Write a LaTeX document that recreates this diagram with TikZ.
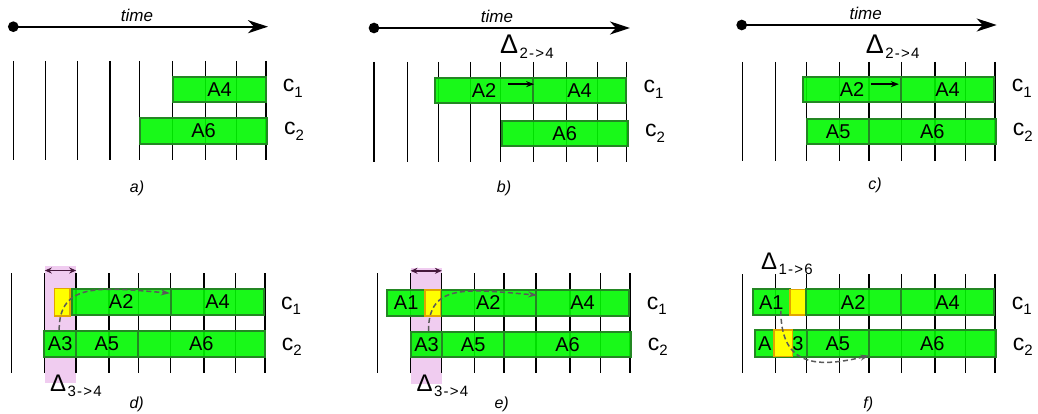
\documentclass[tikz,border=0pt]{standalone}
\usepackage{fontspec}
\setmainfont{Liberation Sans}
\usetikzlibrary{arrows.meta,calc}

\definecolor{actgreen}{RGB}{0,248,0}
\definecolor{actedge}{RGB}{35,135,35}
\definecolor{gapyellow}{RGB}{255,255,0}
\definecolor{gapedge}{RGB}{225,165,0}
\definecolor{shiftpink}{RGB}{240,204,240}
\definecolor{spanpurple}{RGB}{70,25,60}
\definecolor{flowgray}{RGB}{90,90,90}

\newcommand\fs[1]{\fontsize{#1}{#1}\selectfont}
% \blk[style]{name}{x1}{y1}{x2}{y2}{text}: a block between two corners
\newcommand\blk[7][act]{%
  \node[#1, minimum width={(#5-#3)*1pt}, minimum height={(#6-#4)*1pt}]
    (#2) at ({(#3+#5)/2},{(#4+#6)/2}) {#7};}
% \dlabel[style]{name}{x}{y}{subscript}: a Delta with its subscript
\newcommand\dlabel[5][bigdelta]{%
  \node[#1] (#2) at (#3,#4) {Δ};
  \node[deltasub] (#2-sub) at ($(#2.base east)+(1,5)$) {#5};}

\begin{document}
\begin{tikzpicture}[x=1pt,y=-1pt,
  tickline/.style={line width=1.4pt},
  act/.style={draw=actedge, fill=actgreen, fill opacity=0.9, text opacity=1,
    line width=1.7pt, inner sep=0pt, font=\fs{20}},
  gapbox/.style={draw=gapedge, fill=gapyellow, line width=1.2pt, inner sep=0pt},
  windowbox/.style={fill=shiftpink, inner sep=0pt},
  dotnode/.style={circle, fill=black, inner sep=0pt, minimum size=10.7pt},
  timeline/.style={line width=2.2pt, -{Stealth[length=20pt,width=13pt,inset=6pt]}},
  timelbl/.style={font=\fs{17}\itshape},
  panellbl/.style={font=\fs{16}\itshape},
  chan/.style={anchor=base west, inner sep=0pt, font=\fs{23}},
  bigdelta/.style={anchor=base west, inner sep=0pt, font=\fs{27}},
  smalldelta/.style={anchor=base west, inner sep=0pt, font=\fs{24}},
  deltasub/.style={anchor=base west, inner sep=0pt,
    font=\fs{15}\addfontfeatures{LetterSpace=8}},
  pusharrow/.style={line width=1.5pt, -{Stealth[length=8pt,width=6pt]}},
  spanarrow/.style={draw=spanpurple, line width=1.5pt,
    {Stealth[length=7pt,width=6pt]}-{Stealth[length=7pt,width=6pt]}},
  flowarrow/.style={draw=flowgray, line width=1.5pt, dash pattern=on 5pt off 3pt,
    -{Stealth[length=9pt,width=6pt]}},
]
\useasboundingbox (0,0) rectangle (1038,414);

% ---------------- a) ----------------
\node[dotnode] (a-t0) at (13.3,26.7) {};
\coordinate (a-t1) at (268,26.7);
\draw[timeline] (a-t0.center) -- (a-t1);
\node[timelbl] (a-time) at (137,15) {time};
\foreach \x in {13.3,45.7,77.7,110,139.3,172.7,205.7,236.7,266}
  \draw[tickline] (\x,61) -- (\x,160);
\blk{a-A4}{173}{77}{266}{102}{A4}
\blk{a-A6}{140}{118}{267}{144}{A6}
\node[chan] (a-c1) at (282.7,91.7) {c\raisebox{-5.5pt}{\fs{15}1}};
\node[chan] (a-c2) at (284,135) {c\raisebox{-5.5pt}{\fs{15}2}};
\node[panellbl] (a-lbl) at (137,188) {a)};

% ---------------- b) ----------------
\node[dotnode] (b-t0) at (374,28) {};
\coordinate (b-t1) at (630,28);
\draw[timeline] (b-t0.center) -- (b-t1);
\node[timelbl] (b-time) at (497,16) {time};
\dlabel{b-delta}{500}{54}{2->4}
\foreach \x in {374,407.3,438.3,470.7,500.7,533.3,566.7,597.3,626.7}
  \draw[tickline] (\x,62) -- (\x,162);
\blk{b-A2}{435}{78}{533}{103}{A2}
\blk{b-A4}{533}{78}{626}{103}{A4}
\blk{b-A6}{501.7}{121}{627.7}{146}{A6}
\draw[pusharrow] ($(b-A2.north east)+(-26.3,7)$) -- ($(b-A4.north west)+(2,7)$);
\node[chan] (b-c1) at (643.3,93) {c\raisebox{-5.5pt}{\fs{15}1}};
\node[chan] (b-c2) at (645,137) {c\raisebox{-5.5pt}{\fs{15}2}};
\node[panellbl] (b-lbl) at (504,188) {b)};

% ---------------- c) ----------------
\node[dotnode] (c-t0) at (741.7,25) {};
\coordinate (c-t1) at (996.7,25);
\draw[timeline] (c-t0.center) -- (c-t1);
\node[timelbl] (c-time) at (865.7,13) {time};
\dlabel{c-delta}{865.7}{53.5}{2->4}
\foreach \x in {742.3,775.7,806.7,839.3,869,901.7,935,965.7,995}
  \draw[tickline] (\x,62) -- (\x,161);
\blk{c-A2}{803.3}{77}{900.7}{102}{A2}
\blk{c-A4}{900.7}{77}{994.3}{102}{A4}
\blk{c-A5}{807.3}{119}{869}{144}{A5}
\blk{c-A6}{869}{119}{995.7}{144}{A6}
\draw[pusharrow] ($(c-A2.north east)+(-30.7,8)$) -- ($(c-A4.north west)+(-1,8)$);
\node[chan] (c-c1) at (1011.7,92) {c\raisebox{-5.5pt}{\fs{15}1}};
\node[chan] (c-c2) at (1012.7,136) {c\raisebox{-5.5pt}{\fs{15}2}};
\node[panellbl] (c-lbl) at (875,185) {c)};

% ---------------- d) ----------------
\blk[windowbox]{d-win}{45}{266}{76}{383.3}{}
\foreach \x in {11.7,44.3,76,109,138.3,170.7,204,235.7,265}
  \draw[tickline] (\x,273.3) -- (\x,373.3);
\draw[spanarrow] ($(d-win.north west)+(0,4.7)$) -- ($(d-win.north east)+(0,4.7)$);
\blk{d-A2}{71.7}{289}{170.7}{315}{A2}
\blk{d-A4}{170.7}{289}{264.3}{315}{A4}
\blk{d-A3}{44.3}{331}{76}{356.7}{A3}
\blk{d-A5}{76}{331}{137.7}{356.7}{A5}
\blk{d-A6}{137.7}{331}{265}{356.7}{A6}
\blk[gapbox]{d-Y}{54.3}{288.3}{70}{316}{}
\coordinate (d-s) at ($(d-A3.north)+(-1,0)$);
\coordinate (d-e) at ($(d-A4.north west)+(0,5)$);
\draw[flowarrow] (d-s) .. controls ($(d-s)+(0,-48)$) and ($(d-e)+(-70,-6)$) .. (d-e);
\dlabel[smalldelta]{d-delta}{50}{391.7}{3->4}
\node[chan] (d-c1) at (281,309) {c\raisebox{-5.5pt}{\fs{15}1}};
\node[chan] (d-c2) at (281.7,350) {c\raisebox{-5.5pt}{\fs{15}2}};
\node[panellbl] (d-lbl) at (136.7,404) {d)};

% ---------------- e) ----------------
\blk[windowbox]{e-win}{410.7}{267.7}{441.7}{384}{}
\foreach \x in {377.7,410.7,441.7,474.3,504,536,570,600.7,630}
  \draw[tickline] (\x,273) -- (\x,373);
\draw[spanarrow] ($(e-win.north west)+(0,3.3)$) -- ($(e-win.north east)+(0,3.3)$);
\blk{e-A1}{387.3}{290}{425}{316}{A1}
\blk{e-A2}{440.7}{290}{536}{316}{A2}
\blk{e-A4}{536}{290}{629}{316}{A4}
\blk[gapbox]{e-Y}{425}{290}{440.7}{316}{}
\blk{e-A3}{410.7}{331.7}{442.3}{357.3}{A3}
\blk{e-A5}{442.3}{331.7}{504}{357.3}{A5}
\blk{e-A6}{504}{331.7}{631}{357.3}{A6}
\coordinate (e-s) at ($(e-A3.north)+(2,0)$);
\coordinate (e-e) at ($(e-A4.north west)+(2,6)$);
\draw[flowarrow] (e-s) .. controls ($(e-s)+(0,-48)$) and ($(e-e)+(-70,-6)$) .. (e-e);
\dlabel[smalldelta]{e-delta}{416.5}{391.7}{3->4}
\node[chan] (e-c1) at (646.7,309.3) {c\raisebox{-5.5pt}{\fs{15}1}};
\node[chan] (e-c2) at (647.7,350) {c\raisebox{-5.5pt}{\fs{15}2}};
\node[panellbl] (e-lbl) at (501.7,404) {e)};

% ---------------- f) ----------------
\foreach \x in {742.3,775.7,806.7,839.3,869,901.7,935,965.7,995}
  \draw[tickline] (\x,274.3) -- (\x,373.3);
\dlabel[smalldelta]{f-delta}{761}{269.3}{1->6}
\blk{f-A1}{752.7}{289.3}{790}{315}{A1}
\blk[gapbox]{f-Y1}{790}{289.3}{805.7}{315}{}
\blk{f-A2}{805.7}{289.3}{900.7}{315}{A2}
\blk{f-A4}{900.7}{289.3}{994.3}{315}{A4}
\blk{f-A3}{755}{330}{806.7}{356.7}{A\hspace{21pt}3}
\blk[gapbox]{f-Y2}{774}{330}{792.3}{356.7}{}
\blk{f-A5}{806.7}{330}{869}{356.7}{A5}
\blk{f-A6}{869}{330}{995.7}{356.7}{A6}
\coordinate (f-s) at ($(f-A1.south east)+(-10,-5)$);
\coordinate (f-e) at ($(f-A6.south west)+(1,-2)$);
\draw[flowarrow] (f-s) .. controls ($(f-s)+(0,57)$) and ($(f-e)+(-50,12)$) .. (f-e);
\node[chan] (f-c1) at (1011.7,309) {c\raisebox{-5.5pt}{\fs{15}1}};
\node[chan] (f-c2) at (1012.7,350) {c\raisebox{-5.5pt}{\fs{15}2}};
\node[panellbl] (f-lbl) at (868.3,404) {f)};
\end{tikzpicture}
\end{document}
